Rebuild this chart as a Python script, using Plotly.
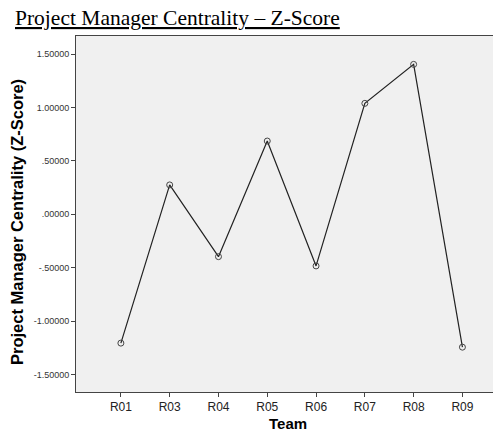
import plotly.graph_objects as go

# Dữ liệu
teams = ["R01", "R03", "R04", "R05", "R06", "R07", "R08", "R09"]
z_scores = [-1.207, 0.275, -0.397, 0.686, -0.484, 1.039, 1.404, -1.245]
y_ticks = [-1.5, -1.0, -0.5, 0.0, 0.5, 1.0, 1.5]
y_tick_labels = ["-1.50000", "-1.00000", "-.50000", ".00000", ".50000", "1.00000", "1.50000"]

# Trang HTML có lề body 8px, nên figure nhỏ hơn cửa sổ 8px
OFF = 8
W, H = 501 - OFF, 435 - OFF
L, R, T, B = 68, 1, 28, 43
PW, PH = W - L - R, H - T - B

fig = go.Figure()

fig.add_trace(go.Scatter(
    x=list(range(len(teams))), y=z_scores,
    mode='lines+markers',
    line=dict(color='#222222', width=1.2),
    marker=dict(symbol='circle-open', size=6, color='#444444', line=dict(width=1)),
    showlegend=False
))

fig.update_layout(
    width=W, height=H,
    paper_bgcolor='white', plot_bgcolor='#f0f0f0',
    margin=dict(l=L, r=R, t=T, b=B),
    font=dict(family='Arial, Liberation Sans, sans-serif', color='#222222'),
    annotations=[
        dict(text="<u>Project Manager Centrality – Z-Score</u>",
             xref='paper', yref='paper', x=(6 - L) / PW, y=1.0, yshift=5,
             xanchor='left', yanchor='bottom', showarrow=False, borderpad=0,
             font=dict(family='Liberation Serif, Times New Roman, serif', size=21.5, color='black')),
        dict(text="<b>Project Manager Centrality (Z-Score)</b>",
             xref='paper', yref='paper', x=(9 - L) / PW, y=(H - B - 214) / PH,
             xanchor='center', yanchor='middle', textangle=-90, showarrow=False,
             font=dict(size=16.5, color='black')),
        dict(text="<b>Team</b>",
             xref='paper', yref='paper', x=0.5, y=(H - B - 415) / PH,
             xanchor='center', yanchor='middle', showarrow=False,
             font=dict(size=15, color='black')),
    ]
)

fig.update_xaxes(
    range=[-0.92, 7.77], automargin=False,
    tickmode='array', tickvals=list(range(len(teams))), ticktext=teams,
    ticks='outside', ticklen=4, tickcolor='#444444',
    showgrid=False, zeroline=False,
    showline=True, linecolor='#444444', linewidth=1, mirror=True,
    tickfont=dict(size=12, color='#222222')
)

fig.update_yaxes(
    range=[-1.665, 1.67], automargin=False,
    tickmode='array', tickvals=y_ticks, ticktext=y_tick_labels,
    ticks='outside', ticklen=4, tickcolor='#444444',
    showgrid=False, zeroline=False,
    showline=True, linecolor='#444444', linewidth=1, mirror=True,
    tickfont=dict(size=9, color='#333333')
)

fig.write_html("out.html")
